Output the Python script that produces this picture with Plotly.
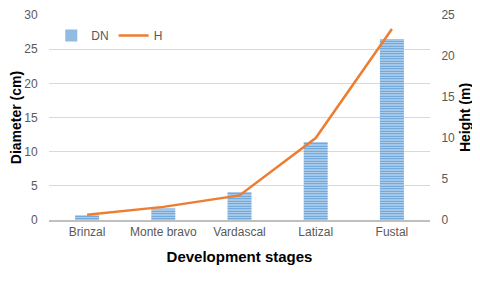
import plotly.graph_objects as go

stages = ["Brinzal", "Monte bravo", "Vardascal", "Latizal", "Fustal"]
dn_values = [0.7, 1.7, 4.1, 11.4, 26.5]
h_values = [0.65, 1.6, 3.0, 10.0, 23.3]

fig = go.Figure()
fig.add_trace(go.Bar(
    x=stages, y=dn_values, name="DN",
    marker=dict(color="#5B9BD5", line=dict(width=0),
                pattern=dict(shape="-", fgcolor="#5B9BD5", bgcolor="#C5DCF1", size=2.5, solidity=0.5,
                             fillmode="replace")),
    yaxis="y",
))
fig.add_trace(go.Scatter(
    x=stages, y=h_values, name="H", mode="lines",
    line=dict(color="#ED7D31", width=2.5),
    yaxis="y2",
))

font_tick = dict(family="Liberation Sans, Arial, sans-serif", size=12, color="#595959")
font_title = dict(family="Liberation Sans, Arial, sans-serif", size=14, color="#000000")
font_xtitle = dict(family="Liberation Sans, Arial, sans-serif", size=15, color="#000000")

fig.update_layout(
    width=472, height=280,
    margin=dict(l=41, r=50, t=7, b=68, autoexpand=False),
    paper_bgcolor="white", plot_bgcolor="white",
    bargap=0.685,
    showlegend=True,
    legend=dict(orientation="h", x=0.006, y=0.9, xanchor="left", yanchor="middle",
                font=dict(family="Liberation Sans, Arial, sans-serif", size=12, color="#595959"),
                bgcolor="rgba(0,0,0,0)", itemwidth=30),
    xaxis=dict(
        tickfont=font_tick, showgrid=False, showline=True, linecolor="#BFBFBF", linewidth=2,
        ticks="", title=dict(text="<b>Development stages</b>", font=font_xtitle, standoff=13),
    ),
    yaxis=dict(
        range=[0, 30], dtick=5, tickfont=font_tick, showgrid=True, gridcolor="#D9D9D9",
        zeroline=False, showline=False, ticks="outside", ticklen=8, tickcolor="rgba(0,0,0,0)",
        title=dict(text="<b>Diameter (cm)</b>", font=font_title, standoff=2),
    ),
    yaxis2=dict(
        range=[0, 25], dtick=5, tickfont=font_tick, overlaying="y", side="right",
        showgrid=False, zeroline=False, showline=False,
        ticks="outside", ticklen=8, tickcolor="rgba(0,0,0,0)",
        title=dict(text="<b>Height (m)</b>", font=font_title, standoff=6),
    ),
)

fig.write_html("out.html")
